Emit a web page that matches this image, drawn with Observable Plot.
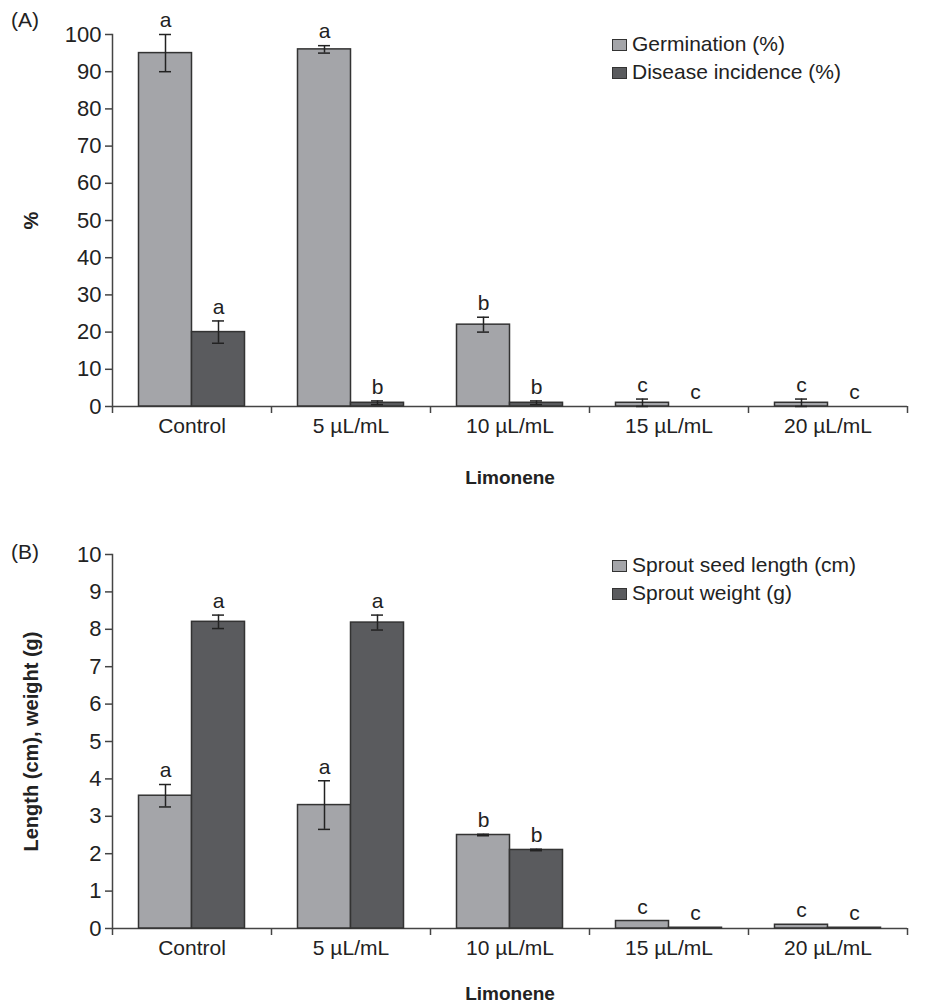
<!DOCTYPE html>
<html>
<head>
<meta charset="utf-8">
<script src="https://cdn.jsdelivr.net/npm/d3@7"></script>
<script src="https://cdn.jsdelivr.net/npm/@observablehq/plot@0.6"></script>
<style>
  body { margin: 0; background: #fff; font-family: "Liberation Sans", Arial, sans-serif; color: #222; }
  #wrap { position: relative; width: 925px; height: 1003px; overflow: hidden; }
  .panel { position: absolute; font-size: 21px; line-height: 24px; color: #222; }
  .legend { position: absolute; font-size: 21px; color: #222; line-height: 28px; white-space: nowrap; }
  .legend .sw { display: inline-block; width: 13px; height: 10px; border: 1.5px solid #333; margin-right: 5px; vertical-align: 0px; }
  svg { display: block; }
</style>
</head>
<body>
<div id="wrap">
  <div id="plotA"></div>
  <div id="plotB"></div>
  <div class="panel" style="left:11px; top:8px;">(A)</div>
  <div class="panel" style="left:11px; top:540px;">(B)</div>
  <div class="legend" id="legA" style="left:612px; top:30px;"></div>
  <div class="legend" id="legB" style="left:612px; top:551px;"></div>
</div>
<script>
const categories = ["Control", "5 µL/mL", "10 µL/mL", "15 µL/mL", "20 µL/mL"];

// Panel A
const seriesA = ["Germination (%)", "Disease incidence (%)"];
const germination = [95, 96, 22, 1, 1];
const germinationErr = [5, 1, 2, 1, 1];
const germinationLetters = ["a", "a", "b", "c", "c"];
const disease = [20, 1, 1, 0, 0];
const diseaseErr = [3, 0.5, 0.5, 0, 0];
const diseaseLetters = ["a", "b", "b", "c", "c"];
const ticksA = [0, 10, 20, 30, 40, 50, 60, 70, 80, 90, 100];

// Panel B
const seriesB = ["Sprout seed length (cm)", "Sprout weight (g)"];
const seedLength = [3.55, 3.3, 2.5, 0.2, 0.1];
const seedLengthErr = [0.3, 0.65, 0.02, 0, 0];
const seedLengthLetters = ["a", "a", "b", "c", "c"];
const sproutWeight = [8.2, 8.18, 2.1, 0.02, 0.02];
const sproutWeightErr = [0.18, 0.2, 0.02, 0, 0];
const sproutWeightLetters = ["a", "a", "b", "c", "c"];
const ticksB = [0, 1, 2, 3, 4, 5, 6, 7, 8, 9, 10];

const colors = ["#a4a5a9", "#5a5b5e"];
const edge = "#333";
const axisColor = "#444";
const W = 925, ML = 112, MR = 18;
const step = (W - ML - MR) / categories.length;

function rows(values, errs, letters) {
  return categories.map((c, i) => ({cat: c, value: values[i], err: errs[i], letter: letters[i]}));
}

function panel({series, yMax, ticks, height, mt, mb, ylabel, labelDy}) {
  const marks = [
    Plot.frame({anchor: "left", stroke: axisColor, strokeWidth: 1.5}),
    Plot.ruleY([0], {stroke: axisColor, strokeWidth: 1.5})
  ];
  series.forEach((s, k) => {
    const left = k === 0 ? step / 6 : step / 2;
    const right = k === 0 ? step / 2 : step / 6;
    const dx = k === 0 ? -step / 6 : step / 6;
    const capL = k === 0 ? step / 3 - 6 : 2 * step / 3 - 6;
    const capR = k === 0 ? 2 * step / 3 - 6 : step / 3 - 6;
    const withErr = s.data.filter(d => d.err > 0);
    marks.push(
      Plot.barY(s.data, {x: "cat", y: "value", fill: colors[k], stroke: edge, strokeWidth: 1.5, insetLeft: left, insetRight: right}),
      Plot.ruleX(withErr, {x: "cat", y1: d => d.value - d.err, y2: d => d.value + d.err, dx, stroke: "#222", strokeWidth: 1.5}),
      Plot.tickY(withErr, {x: "cat", y: d => d.value + d.err, insetLeft: capL, insetRight: capR, stroke: "#222", strokeWidth: 1.5}),
      Plot.tickY(withErr, {x: "cat", y: d => d.value - d.err, insetLeft: capL, insetRight: capR, stroke: "#222", strokeWidth: 1.5}),
      Plot.text(s.data, {x: "cat", y: d => d.value + d.err, text: "letter", dx, dy: -14, lineAnchor: "middle", fontSize: 21, fill: "#222"})
    );
  });
  marks.push(
    Plot.axisY({ticks, tickSize: 7, tickPadding: 4, label: null, fontSize: 22, stroke: axisColor, strokeWidth: 1.5, fill: "#222"}),
    Plot.axisX({tickSize: 0, tickPadding: 12, label: null, fontSize: 21, fill: "#222"}),
    Plot.axisX({ticks: categories, tickSize: 7, tickFormat: () => "", dx: -step / 2, label: null, stroke: axisColor, strokeWidth: 1.5}),
    Plot.axisX({ticks: categories.slice(-1), tickSize: 7, tickFormat: () => "", dx: step / 2, label: null, stroke: axisColor, strokeWidth: 1.5}),
    Plot.text([ylabel], {frameAnchor: "left", textAnchor: "middle", lineAnchor: "middle", rotate: -90, dx: -81, fontWeight: "bold", fontSize: 20, fill: "#222"}),
    Plot.text(["Limonene"], {frameAnchor: "bottom", dy: labelDy, fontWeight: "bold", fontSize: 19, fill: "#222", lineAnchor: "middle"})
  );
  return Plot.plot({
    width: W, height,
    marginLeft: ML, marginRight: MR, marginTop: mt, marginBottom: mb,
    style: {fontFamily: "Liberation Sans, Arial, sans-serif", fontSize: "19px", color: "#222", background: "#fff", overflow: "visible"},
    x: {type: "band", domain: categories, paddingInner: 0, paddingOuter: 0, axis: null},
    y: {domain: [0, yMax], axis: null},
    marks
  });
}

function legend(el, names) {
  el.innerHTML = names.map((n, k) => `<div><span class="sw" style="background:${colors[k]}"></span>${n}</div>`).join("");
}

const A = panel({
  series: [
    {data: rows(germination, germinationErr, germinationLetters)},
    {data: rows(disease, diseaseErr, diseaseLetters)}
  ],
  yMax: 100, ticks: ticksA, height: 500, mt: 34, mb: 94, ylabel: "%", labelDy: 71
});
document.getElementById("plotA").appendChild(A);

const B = panel({
  series: [
    {data: rows(seedLength, seedLengthErr, seedLengthLetters)},
    {data: rows(sproutWeight, sproutWeightErr, sproutWeightLetters)}
  ],
  yMax: 10, ticks: ticksB, height: 503, mt: 54, mb: 75, ylabel: "Length (cm), weight (g)", labelDy: 65
});
document.getElementById("plotB").appendChild(B);

legend(document.getElementById("legA"), seriesA);
legend(document.getElementById("legB"), seriesB);
</script>
</body>
</html>
